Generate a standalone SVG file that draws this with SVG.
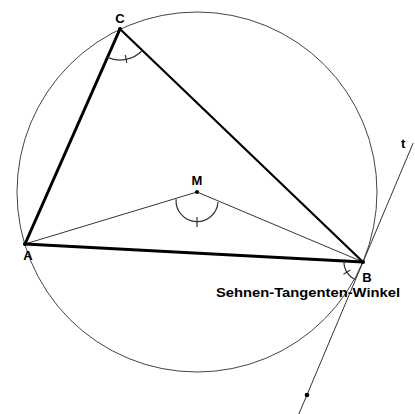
<svg xmlns="http://www.w3.org/2000/svg" width="415" height="414" viewBox="0 0 415 414">
<style>
.thin{stroke:#333;stroke-width:1;fill:none}
.arc{stroke:#333;stroke-width:1.2;fill:none}
.thick{stroke:#000;stroke-width:3;fill:none;stroke-linecap:round}
.mid{stroke:#000;stroke-width:2.2;fill:none;stroke-linecap:round}
.lbl{font-family:"Liberation Sans",Arial,sans-serif;font-weight:bold;font-size:13px;fill:#000}
.pt{fill:#000}
</style>
<rect width="415" height="414" fill="#fff"/>
<g id="circle"><circle cx="197" cy="192" r="180" stroke="#444" stroke-width="1" fill="none"/></g>
<g id="connectors">
<line class="thin" x1="413.2" y1="143" x2="298.9" y2="414"/>
<line class="thin" x1="197" y1="192" x2="25" y2="244"/>
<line class="thin" x1="197" y1="192" x2="363" y2="262"/>
<line class="thick" x1="120" y1="29" x2="25" y2="244"/>
<line class="thick" x1="25" y1="244" x2="363" y2="262"/>
<line class="mid" x1="120" y1="29" x2="363" y2="262"/>
</g>
<g id="angles">
<path class="arc" d="M107.5 57.4 A31 31 0 0 0 142.3 50.5"/>
<line class="arc" x1="125.3" y1="55" x2="126.8" y2="63"/>
<path class="arc" d="M176.1 199.2 A21 21 0 1 0 218 202.1"/>
<line class="arc" x1="197" y1="217" x2="197" y2="227"/>
<path class="arc" d="M344 261 A19 19 0 0 0 355.5 279.5"/>
<line class="arc" x1="350.3" y1="270" x2="343.5" y2="274.2"/>
</g>
<g id="A"><circle class="pt" cx="25" cy="244" r="2"/><text class="lbl" x="28" y="260" text-anchor="middle">A</text></g>
<g id="B"><circle class="pt" cx="363" cy="262" r="2"/><text class="lbl" x="367" y="282" text-anchor="middle">B</text></g>
<g id="C"><circle class="pt" cx="120" cy="29" r="2"/><text class="lbl" x="120" y="23" text-anchor="middle">C</text></g>
<g id="M"><circle class="pt" cx="197" cy="192" r="2"/><text class="lbl" x="197" y="185" text-anchor="middle">M</text></g>
<g id="T"><circle class="pt" cx="307" cy="395" r="2.3"/><text class="lbl" x="401" y="148">t</text></g>
<g id="label"><text class="lbl" x="216" y="297" textLength="184" lengthAdjust="spacingAndGlyphs">Sehnen-Tangenten-Winkel</text></g>
</svg>
